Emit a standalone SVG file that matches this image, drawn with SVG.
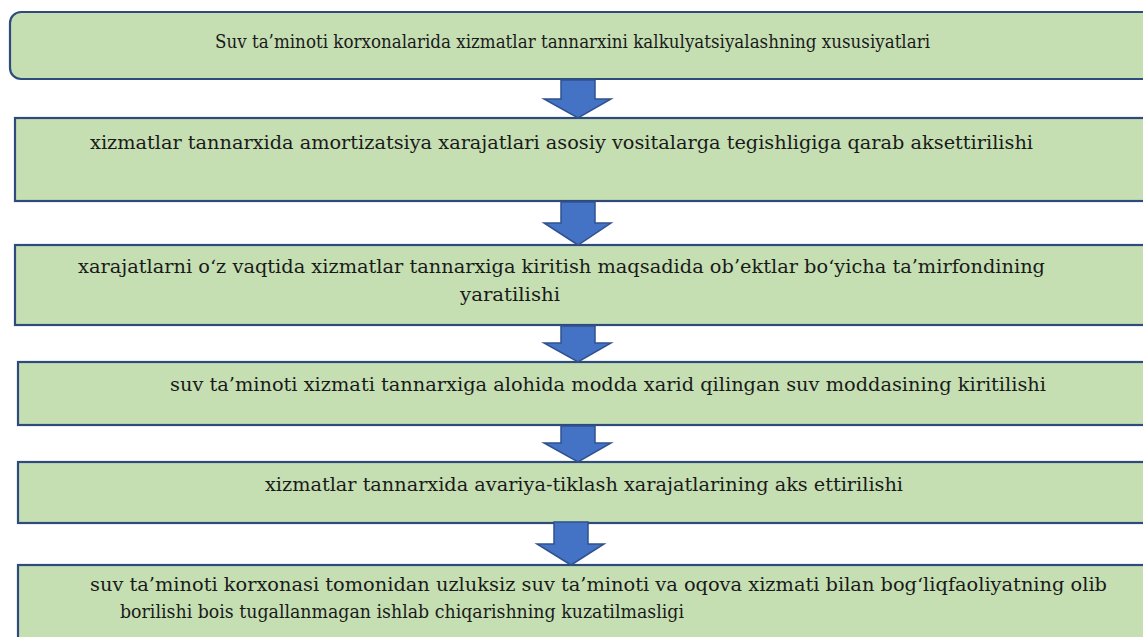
<svg xmlns="http://www.w3.org/2000/svg" width="1143" height="637" viewBox="0 0 1143 637">
<style>
.box{fill:#C5DFB3;stroke:#2F4B7C;stroke-width:2.2}
.t{font-family:"DejaVu Serif","Liberation Serif",serif;font-size:18.5px;fill:#1a1a1a}
.s{font-size:18px}
.arr{fill:#4472C4;stroke:#2F528F;stroke-width:1.5;stroke-linejoin:miter}
</style>
<rect width="1143" height="637" fill="#ffffff"/>
<g id="n1">
<rect class="box" x="10" y="12" width="1150" height="67" rx="11"/>
<text class="t s" x="215" y="48" textLength="715" lengthAdjust="spacingAndGlyphs">Suv ta’minoti korxonalarida xizmatlar tannarxini kalkulyatsiyalashning xususiyatlari</text>
</g>
<g id="n2">
<rect class="box" x="15" y="118" width="1150" height="83"/>
<text class="t" x="90" y="149" textLength="943" lengthAdjust="spacingAndGlyphs">xizmatlar tannarxida amortizatsiya xarajatlari asosiy vositalarga tegishligiga qarab aksettirilishi</text>
</g>
<g id="n3">
<rect class="box" x="15" y="245" width="1150" height="80"/>
<text class="t" x="78" y="273" textLength="967" lengthAdjust="spacingAndGlyphs">xarajatlarni o‘z vaqtida xizmatlar tannarxiga kiritish maqsadida ob’ektlar bo‘yicha ta’mirfondining</text>
<text class="t" x="460" y="301" textLength="100" lengthAdjust="spacingAndGlyphs">yaratilishi</text>
</g>
<g id="n4">
<rect class="box" x="18" y="362" width="1150" height="63"/>
<text class="t" x="170" y="391" textLength="876" lengthAdjust="spacingAndGlyphs">suv ta’minoti xizmati tannarxiga alohida modda xarid qilingan suv moddasining kiritilishi</text>
</g>
<g id="n5">
<rect class="box" x="18" y="462" width="1150" height="61"/>
<text class="t" x="265" y="491" textLength="638" lengthAdjust="spacingAndGlyphs">xizmatlar tannarxida avariya-tiklash xarajatlarining aks ettirilishi</text>
</g>
<g id="n6">
<rect class="box" x="18" y="565" width="1150" height="90"/>
<text class="t" x="90" y="591" textLength="1017" lengthAdjust="spacingAndGlyphs">suv ta’minoti korxonasi tomonidan uzluksiz suv ta’minoti va oqova xizmati bilan bog‘liqfaoliyatning olib</text>
<text class="t" x="120" y="618" textLength="564" lengthAdjust="spacingAndGlyphs">borilishi bois tugallanmagan ishlab chiqarishning kuzatilmasligi</text>
</g>
<g id="connectors">
<path class="arr" d="M561,80 H595 V99 H611 L578,118 L544,99 H561 Z"/>
<path class="arr" d="M561,202 H595 V223 H611 L578,245 L544,223 H561 Z"/>
<path class="arr" d="M561,326 H595 V343 H611 L578,362 L544,343 H561 Z"/>
<path class="arr" d="M561,426 H595 V443 H611 L578,462 L544,443 H561 Z"/>
<path class="arr" d="M554,522 H588 V544 H604 L571,565 L537,544 H554 Z"/>
</g>
</svg>
